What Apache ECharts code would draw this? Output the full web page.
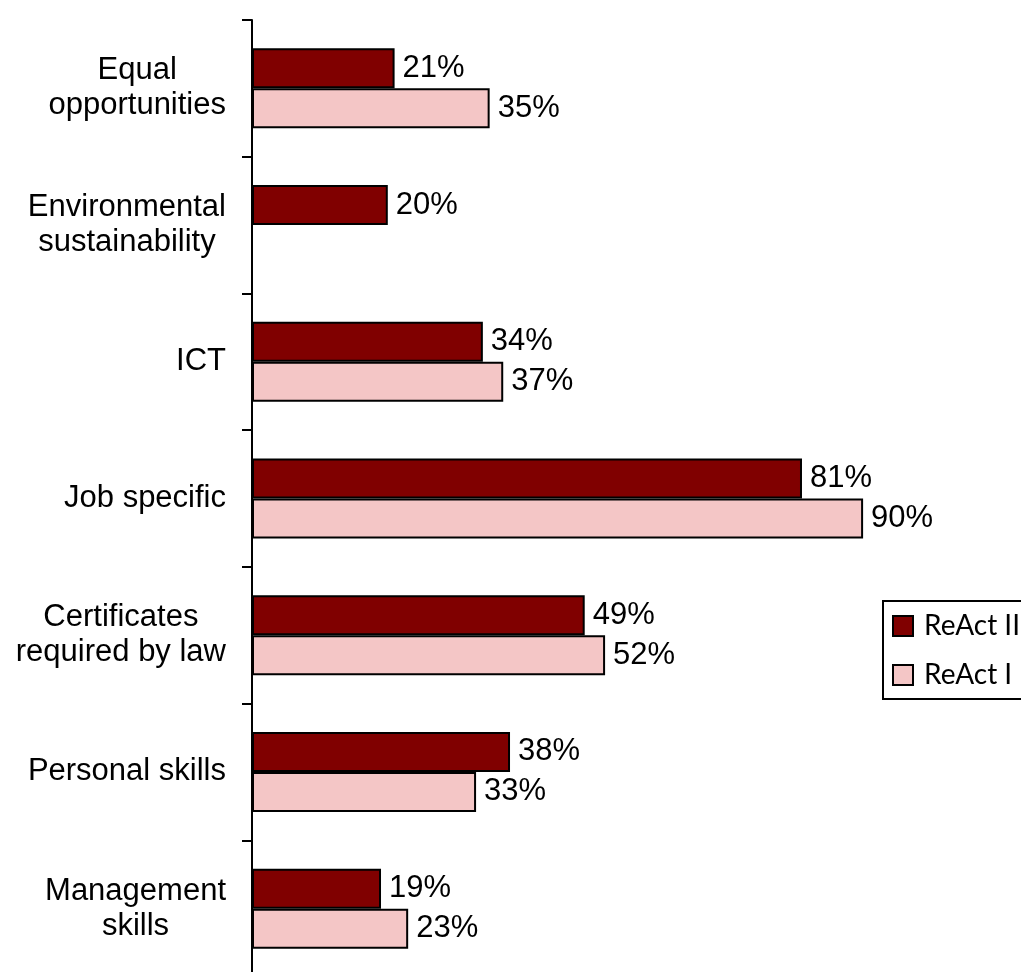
<!DOCTYPE html>
<html>
<head>
<meta charset="utf-8">
<script src="https://cdn.jsdelivr.net/npm/echarts@6/dist/echarts.min.js"></script>
<style>
  html, body { margin: 0; padding: 0; background: #fff; }
  #main { width: 1021px; height: 972px; }
</style>
</head>
<body>
<div id="main"></div>
<script>
var categories = [
    'Equal\nopportunities',
    'Environmental\nsustainability',
    'ICT',
    'Job specific',
    'Certificates\nrequired by law',
    'Personal skills',
    'Management\nskills'
];
var react2 = [21, 20, 34, 81, 49, 38, 19];
var react1 = [35, null, 37, 90, 52, 33, 23];

var chart = echarts.init(document.getElementById('main'));

var labelFont = 'Liberation Sans, Arial, sans-serif';

var option = {
    animation: false,
    legend: {
        orient: 'vertical',
        left: 883,
        top: 601,
        padding: [11, 12, 10, 9],
        itemWidth: 20,
        itemHeight: 20,
        itemGap: 21,
        icon: 'rect',
        borderColor: '#000',
        borderWidth: 2,
        textStyle: {
            fontFamily: 'Lato, sans-serif',
            fontSize: 28,
            color: '#000',
            padding: [0, 0, 0, 6]
        },
        data: ['ReAct II', 'ReAct I']
    },
    grid: {
        left: 252,
        top: 20,
        width: 679,
        height: 957,
        outerBoundsMode: 'none'
    },
    xAxis: {
        type: 'value',
        min: 0,
        max: 100,
        show: false,
        splitLine: { show: false }
    },
    yAxis: {
        type: 'category',
        inverse: true,
        data: categories,
        axisLine: { show: true, lineStyle: { color: '#000', width: 2 } },
        axisTick: { show: true, inside: false, alignWithLabel: false, length: 10, lineStyle: { color: '#000', width: 2 } },
        axisLabel: {
            margin: 26,
            formatter: function (v) {
                return v.split('\n').map(function (s) { return '{c|' + s + '}'; }).join('\n');
            },
            rich: {
                c: {
                    align: 'center',
                    fontFamily: labelFont,
                    fontSize: 31,
                    lineHeight: 35,
                    color: '#000'
                }
            }
        }
    },
    series: [
        {
            name: 'ReAct II',
            type: 'bar',
            data: react2,
            barWidth: 40,
            barGap: '0%',
            itemStyle: { color: '#800000', borderColor: '#000', borderWidth: 2 },
            label: {
                show: true,
                position: 'right',
                distance: 8,
                formatter: '{c}%',
                fontFamily: labelFont,
                fontSize: 31,
                color: '#000'
            }
        },
        {
            name: 'ReAct I',
            type: 'bar',
            data: react1,
            barWidth: 40,
            barGap: '0%',
            itemStyle: { color: '#F4C6C6', borderColor: '#000', borderWidth: 2 },
            label: {
                show: true,
                position: 'right',
                distance: 8,
                formatter: '{c}%',
                fontFamily: labelFont,
                fontSize: 31,
                color: '#000'
            }
        }
    ]
};

chart.setOption(option);
</script>
</body>
</html>
